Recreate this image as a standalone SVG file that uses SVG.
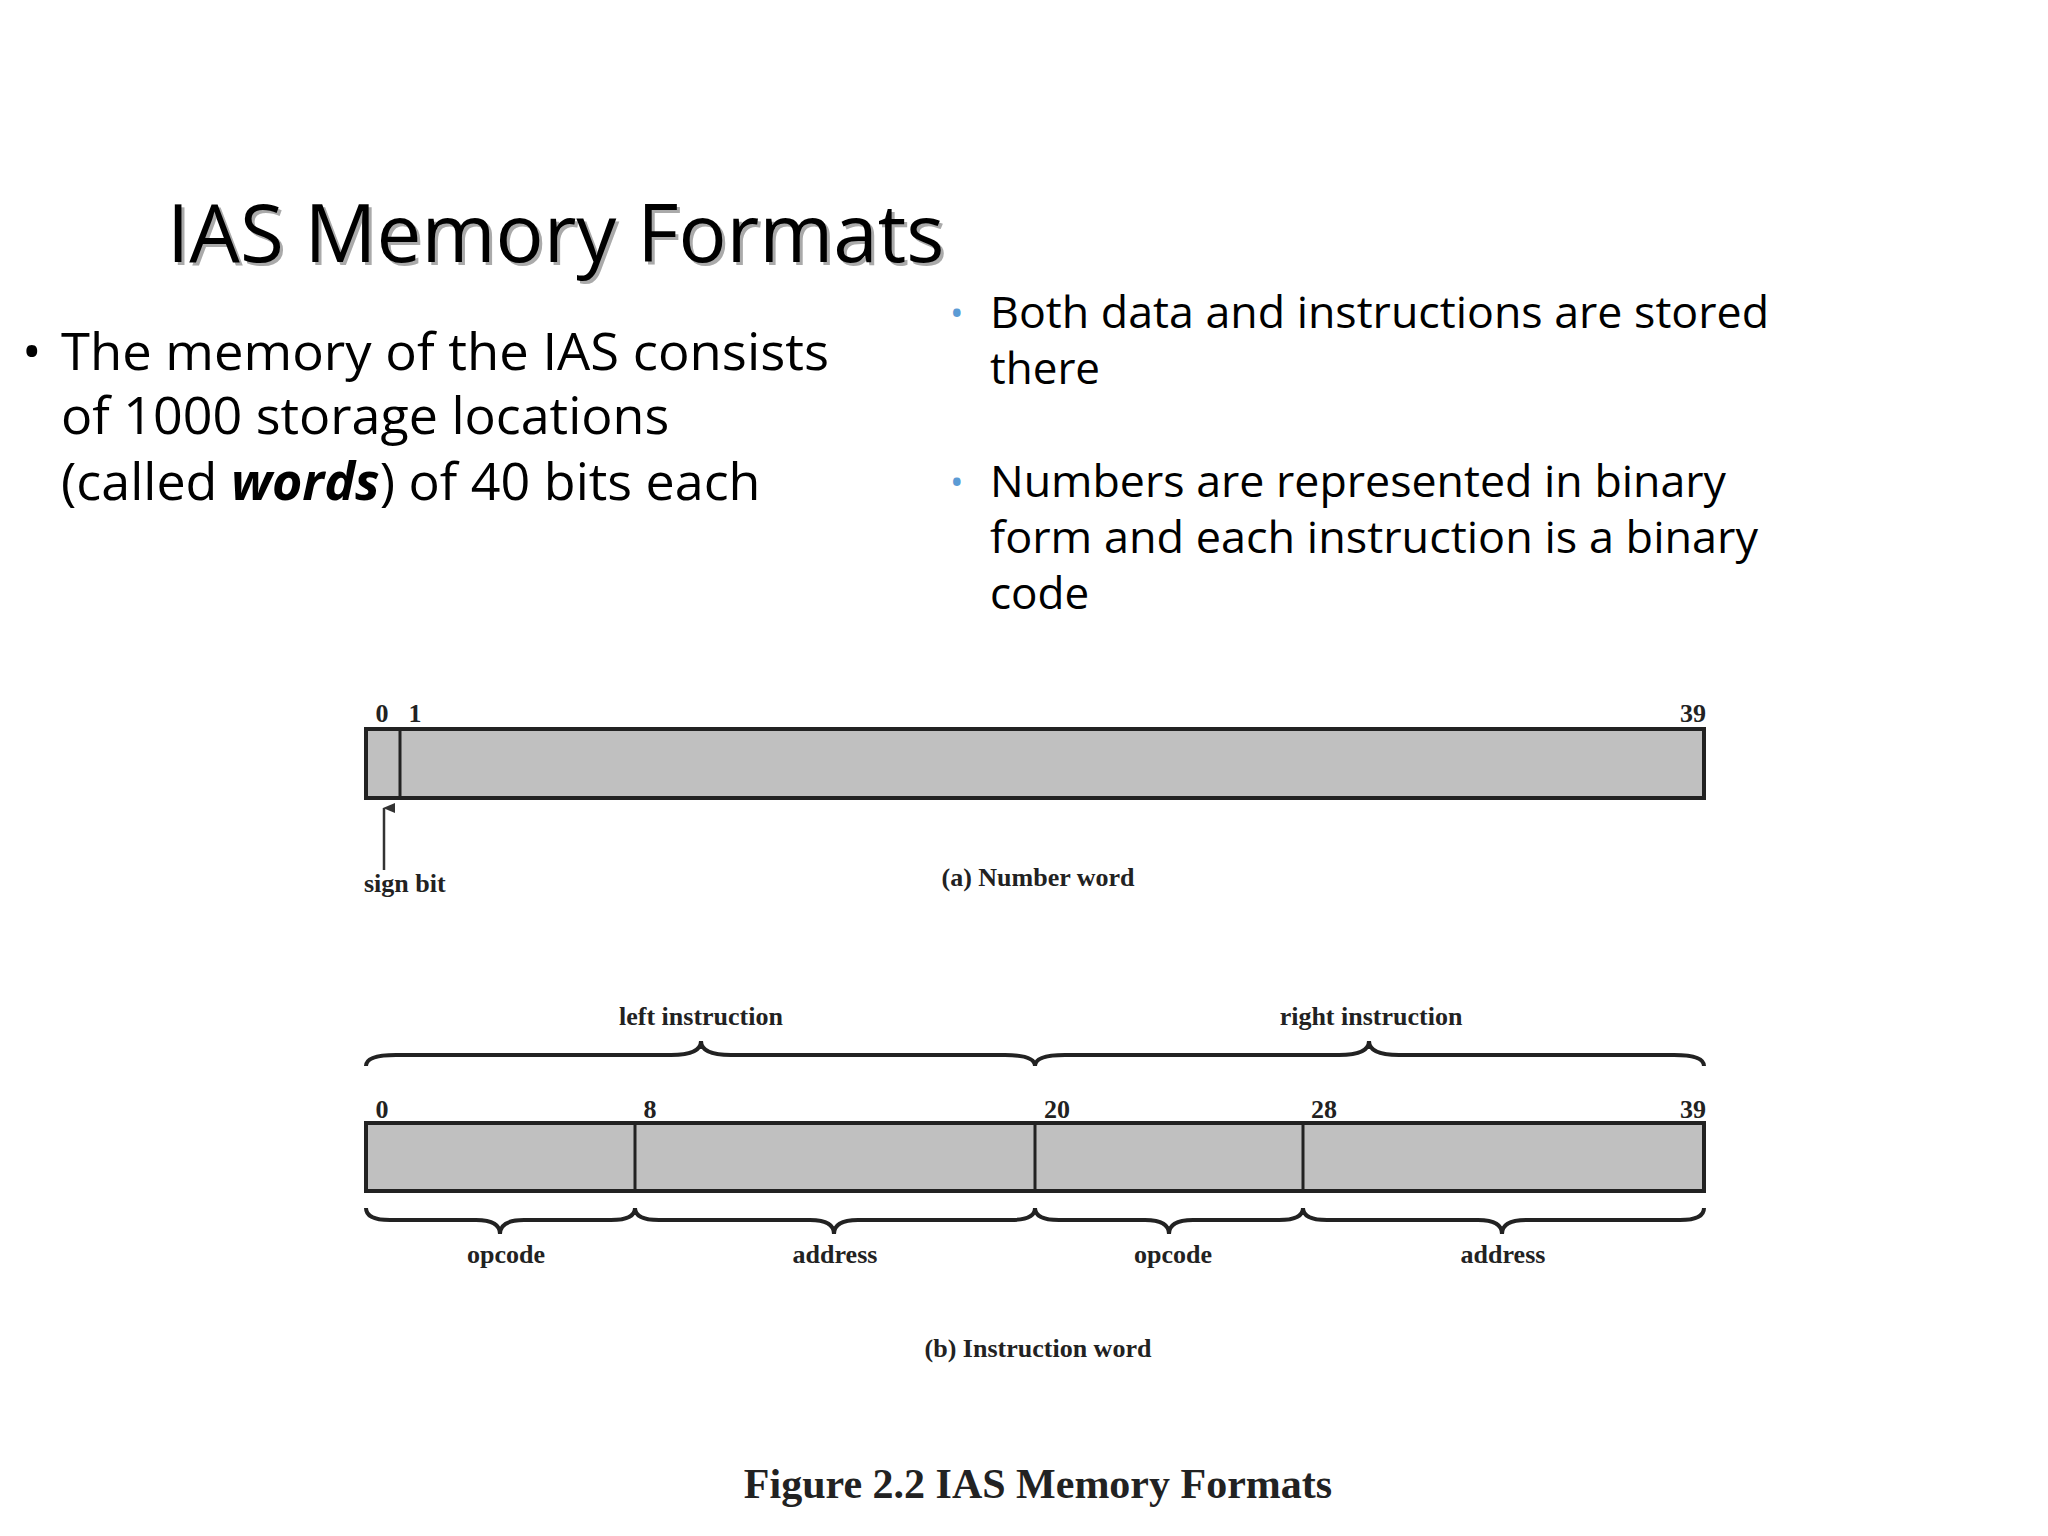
<svg xmlns="http://www.w3.org/2000/svg" width="2048" height="1536" viewBox="0 0 2048 1536">
<defs>
<marker id="ah" markerWidth="10" markerHeight="12" refX="5" refY="1" orient="auto-start-reverse" markerUnits="userSpaceOnUse" viewBox="0 0 10 12"><path d="M0,12 L5,0 L10,12 Z" fill="#333"/></marker>
</defs>
<style>
.t{font-family:"Open Sans","Liberation Sans",sans-serif;fill:#000}
.d{font-family:"Liberation Serif",serif;font-weight:bold;font-size:26px;fill:#222}
.box{fill:#c0c0c0;stroke:#222;stroke-width:4}
.div{stroke:#222;stroke-width:3}
.br{fill:none;stroke:#222;stroke-width:4}
</style>
<rect width="2048" height="1536" fill="#fff"/>
<g id="title">
<text class="t" x="170" y="265" font-size="80" fill="#999" style="fill:#aaa">IAS Memory Formats</text>
<text class="t" x="167" y="262" font-size="80">IAS Memory Formats</text>
</g>
<g id="left-text" class="t" font-size="52">
<text x="22" y="370">•</text>
<text x="61" y="370" textLength="768" lengthAdjust="spacingAndGlyphs">The memory of the IAS consists</text>
<text x="61" y="434">of 1000 storage locations</text>
<text x="61" y="500">(called <tspan font-weight="bold" font-style="italic">words</tspan>) of 40 bits each</text>
</g>
<g id="right-text" class="t" font-size="44">
<text x="950" y="326" style="fill:#5b9bd5" font-size="36">•</text>
<text x="990" y="328" textLength="779" lengthAdjust="spacingAndGlyphs">Both data and instructions are stored</text>
<text x="990" y="384">there</text>
<text x="950" y="495" style="fill:#5b9bd5" font-size="36">•</text>
<text x="990" y="497" textLength="736" lengthAdjust="spacingAndGlyphs">Numbers are represented in binary</text>
<text x="990" y="553" textLength="768" lengthAdjust="spacingAndGlyphs">form and each instruction is a binary</text>
<text x="990" y="609">code</text>
</g>
<g id="number-word">
<rect class="box" x="366" y="729" width="1338" height="69"/>
<line class="div" x1="400" y1="729" x2="400" y2="798"/>
<text class="d" x="382" y="722" text-anchor="middle">0</text>
<text class="d" x="415" y="722" text-anchor="middle">1</text>
<text class="d" x="1693" y="722" text-anchor="middle">39</text>
<text class="d" x="364" y="892">sign bit</text>
<text class="d" x="1038" y="886" text-anchor="middle">(a) Number word</text>
</g>
<g id="connectors">
<line x1="384" y1="870" x2="384" y2="808" stroke="#333" stroke-width="2.5" marker-end="url(#ah)"/>
</g>
<g id="instruction-word">
<path class="br" d="M366,1066 Q366,1055 396,1055 L671,1055 Q701,1055 701,1041 Q701,1055 731,1055 L1005,1055 Q1035,1055 1035,1066 Q1035,1055 1065,1055 L1339,1055 Q1369,1055 1369,1041 Q1369,1055 1399,1055 L1674,1055 Q1704,1055 1704,1066"/>
<text class="d" x="701" y="1025" text-anchor="middle">left instruction</text>
<text class="d" x="1371" y="1025" text-anchor="middle">right instruction</text>
<text class="d" x="382" y="1118" text-anchor="middle">0</text>
<text class="d" x="650" y="1118" text-anchor="middle">8</text>
<text class="d" x="1057" y="1118" text-anchor="middle">20</text>
<text class="d" x="1324" y="1118" text-anchor="middle">28</text>
<text class="d" x="1693" y="1118" text-anchor="middle">39</text>
<rect class="box" x="366" y="1123" width="1338" height="68"/>
<line class="div" x1="635" y1="1123" x2="635" y2="1191"/>
<line class="div" x1="1035" y1="1123" x2="1035" y2="1191"/>
<line class="div" x1="1303" y1="1123" x2="1303" y2="1191"/>
<path class="br" d="M366,1208 Q366,1220 390,1220 L476,1220 Q500,1220 500,1234 Q500,1220 524,1220 L611,1220 Q635,1220 635,1208 Q635,1220 659,1220 L810,1220 Q834,1220 834,1234 Q834,1220 858,1220 L1011,1220 Q1035,1220 1035,1208 Q1035,1220 1059,1220 L1145,1220 Q1169,1220 1169,1234 Q1169,1220 1193,1220 L1279,1220 Q1303,1220 1303,1208 Q1303,1220 1327,1220 L1478,1220 Q1502,1220 1502,1234 Q1502,1220 1526,1220 L1680,1220 Q1704,1220 1704,1208"/>
<text class="d" x="506" y="1263" text-anchor="middle">opcode</text>
<text class="d" x="835" y="1263" text-anchor="middle">address</text>
<text class="d" x="1173" y="1263" text-anchor="middle">opcode</text>
<text class="d" x="1503" y="1263" text-anchor="middle">address</text>
<text class="d" x="1038" y="1357" text-anchor="middle">(b) Instruction word</text>
</g>
<g id="caption">
<text x="1038" y="1498" text-anchor="middle" font-family="Liberation Serif,serif" font-weight="bold" font-size="42" fill="#222">Figure 2.2  IAS Memory Formats</text>
</g>
</svg>
